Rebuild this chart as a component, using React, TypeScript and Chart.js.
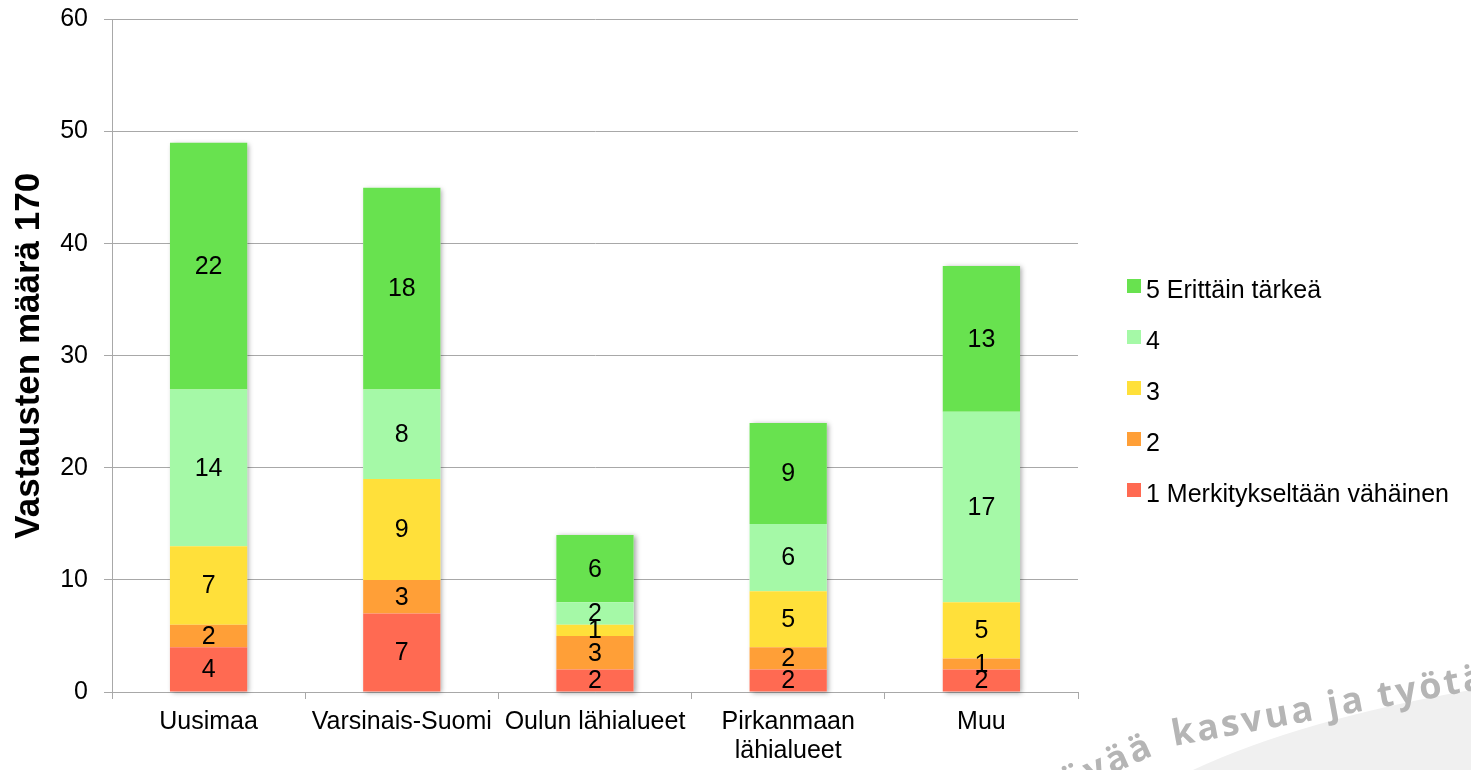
import React, { useEffect, useRef } from "react";
import { Chart, registerables } from "chart.js";

Chart.register(...registerables);

const categories: (string | string[])[] = [
  "Uusimaa",
  "Varsinais-Suomi",
  "Oulun lähialueet",
  ["Pirkanmaan", "lähialueet"],
  "Muu",
];

const seriesNames = [
  "1 Merkitykseltään vähäinen",
  "2",
  "3",
  "4",
  "5 Erittäin tärkeä",
];

const values1 = [4, 7, 2, 2, 2];
const values2 = [2, 3, 3, 2, 1];
const values3 = [7, 9, 1, 5, 5];
const values4 = [14, 8, 2, 6, 17];
const values5 = [22, 18, 6, 9, 13];

const seriesColors = ["#FF6A52", "#FF9F37", "#FFE03A", "#A5F9A7", "#68E24F"];

const yTicks = { min: 0, max: 60, step: 10 };
const yTitle = "Vastausten määrä 170";
const watermarkLead = "kestävää ";
const watermarkText = "kasvua ja työtä";

const FONT = "'Liberation Sans', Arial, sans-serif";

const shadowPlugin = {
  id: "barShadow",
  beforeDatasetsDraw(chart: any) {
    const ctx = chart.ctx;
    const n = chart.data.datasets.length;
    const bottomMeta = chart.getDatasetMeta(0);
    const topMeta = chart.getDatasetMeta(n - 1);
    ctx.save();
    ctx.shadowColor = "rgba(0,0,0,0.35)";
    ctx.shadowBlur = 5;
    ctx.shadowOffsetX = 2;
    ctx.shadowOffsetY = 1;
    ctx.fillStyle = "#ffffff";
    bottomMeta.data.forEach((el: any, i: number) => {
      const top = topMeta.data[i];
      const w = el.width;
      ctx.fillRect(el.x - w / 2, top.y, w, el.base - top.y);
    });
    ctx.restore();
  },
};

const labelPlugin = {
  id: "segmentLabels",
  afterDatasetsDraw(chart: any) {
    const ctx = chart.ctx;
    ctx.save();
    ctx.font = `25px ${FONT}`;
    ctx.fillStyle = "#000";
    ctx.textAlign = "center";
    ctx.textBaseline = "middle";
    chart.data.datasets.forEach((ds: any, di: number) => {
      const meta = chart.getDatasetMeta(di);
      meta.data.forEach((el: any, i: number) => {
        const v = ds.data[i];
        if (!v) return;
        ctx.fillText(String(v), el.x, (el.y + el.base) / 2 + 1);
      });
    });
    ctx.restore();
  },
};

const legendPlugin = {
  id: "customLegend",
  afterDraw(chart: any) {
    const ctx = chart.ctx;
    ctx.save();
    ctx.font = `25px ${FONT}`;
    ctx.textAlign = "left";
    ctx.textBaseline = "alphabetic";
    const ds = chart.data.datasets.slice().reverse();
    ds.forEach((d: any, i: number) => {
      const cy = 286 + i * 51;
      ctx.fillStyle = d.backgroundColor;
      ctx.fillRect(1127, cy - 7, 14, 14);
      ctx.fillStyle = "#000";
      ctx.fillText(d.label, 1146, cy + 12);
    });
    ctx.restore();
  },
};

const watermarkPlugin = {
  id: "watermark",
  beforeDraw(chart: any) {
    const ctx = chart.ctx;
    ctx.save();
    ctx.fillStyle = "#f0f0f0";
    ctx.beginPath();
    ctx.moveTo(1193, 770);
    ctx.quadraticCurveTo(1300, 720, 1471, 690);
    ctx.lineTo(1471, 770);
    ctx.closePath();
    ctx.fill();
    ctx.font = `bold 36px 'Open Sans', sans-serif`;
    (ctx as any).letterSpacing = "3px";
    ctx.fillStyle = "#b5b5b5";
    ctx.textBaseline = "alphabetic";
    ctx.save();
    ctx.translate(1174, 746);
    ctx.rotate((-10.5 * Math.PI) / 180);
    ctx.textAlign = "left";
    ctx.fillText(watermarkText, 0, 0);
    ctx.restore();
    ctx.save();
    ctx.translate(1168, 749);
    ctx.rotate((-24 * Math.PI) / 180);
    ctx.textAlign = "right";
    ctx.fillText(watermarkLead, 0, 0);
    ctx.restore();
    ctx.restore();
  },
};

export default function App() {
  const ref = useRef<HTMLCanvasElement | null>(null);
  useEffect(() => {
    document.body.style.margin = "0";
    const canvas = ref.current!;
    const allValues = [values1, values2, values3, values4, values5];
    const chart = new Chart(canvas, {
      type: "bar",
      data: {
        labels: categories as any,
        datasets: allValues.map((vals, i) => ({
          label: seriesNames[i],
          data: vals,
          backgroundColor: seriesColors[i],
          borderWidth: 0,
          barPercentage: 0.4,
          categoryPercentage: 1,
        })),
      },
      options: {
        responsive: false,
        animation: false,
        layout: { padding: { left: 0, right: 393, top: 19.5, bottom: 0 } },
        plugins: {
          legend: { display: false },
          tooltip: { enabled: false },
        },
        scales: {
          x: {
            stacked: true,
            afterFit: (s: any) => {
              s.height = 78;
              s.paddingLeft = 0;
              s.paddingRight = 0;
            },
            border: { display: true, color: "#a8a8a8", width: 1 },
            grid: {
              display: true,
              drawOnChartArea: false,
              drawTicks: true,
              tickLength: 7,
              color: "#a8a8a8",
              offset: true,
            },
            ticks: {
              autoSkip: false,
              maxRotation: 0,
              minRotation: 0,
              padding: 9,
              color: "#000",
              font: { family: FONT, size: 25, lineHeight: 1.15 },
            },
          },
          y: {
            stacked: true,
            min: yTicks.min,
            max: yTicks.max,
            afterFit: (s: any) => {
              s.width = 112;
              s.paddingTop = 0;
              s.paddingBottom = 0;
            },
            border: { display: true, color: "#a8a8a8", width: 1 },
            grid: {
              color: "#a8a8a8",
              tickLength: 8,
              drawTicks: true,
            },
            ticks: {
              stepSize: yTicks.step,
              padding: 16,
              color: "#000",
              font: { family: FONT, size: 25 },
            },
            title: {
              display: true,
              text: yTitle,
              color: "#000",
              padding: { top: 8, bottom: 0 },
              font: { family: FONT, size: 35, weight: "bold", lineHeight: 1.2 },
            },
          },
        },
      },
      plugins: [watermarkPlugin, shadowPlugin, labelPlugin, legendPlugin],
    });
    return () => chart.destroy();
  }, []);
  return (
    <canvas
      ref={ref}
      width={1471}
      height={770}
      style={{ display: "block", width: 1471, height: 770 }}
    />
  );
}
